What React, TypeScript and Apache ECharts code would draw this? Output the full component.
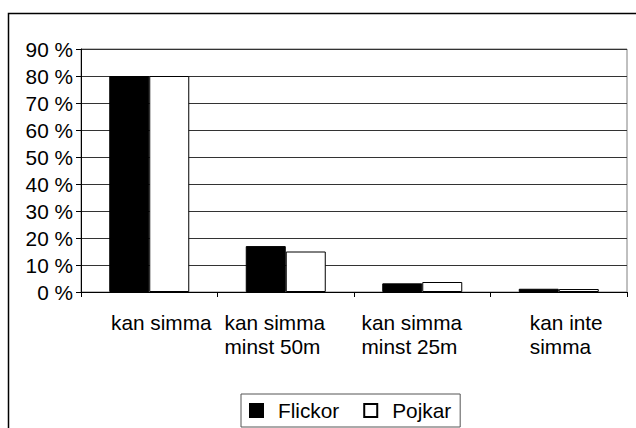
import React, { useEffect, useRef } from "react";
import * as echarts from "echarts";

const categories = [
  "kan simma",
  "kan simma\nminst 50m",
  "kan simma\nminst 25m",
  "kan inte\nsimma",
];
const seriesNames = ["Flickor", "Pojkar"];
const flickor = [80, 17, 3.2, 1.2];
const pojkar = [80, 15, 3.7, 1.1];
const yMin = 0;
const yMax = 90;
const yStep = 10;

const FONT = "'Liberation Sans', Arial, sans-serif";
const FS = 20.8;

export default function App() {
  const ref = useRef<HTMLDivElement>(null);
  useEffect(() => {
    if (!ref.current) return;
    const chart = echarts.init(ref.current, undefined, { renderer: "svg" });
    const labelPads = [
      [0, 0, 0, 24],
      [0, 22, 0, 0],
      [0, 21, 0, 0],
      [0, 0, 0, 15],
    ];
    const rich: any = {};
    labelPads.forEach((p, i) => {
      rich["c" + i] = {
        padding: p,
        align: "left",
        fontFamily: FONT,
        fontSize: FS,
        color: "#000",
        lineHeight: 24,
      };
    });
    chart.setOption({
      animation: false,
      backgroundColor: "#fff",
      textStyle: { fontFamily: FONT, color: "#000" },
      graphic: [
        {
          type: "rect",
          shape: { x: 8.5, y: 13.5, width: 700, height: 500 },
          style: { fill: "none", stroke: "#000", lineWidth: 1.5 },
          z: 0,
        },
      ],
      grid: {
        left: 81,
        top: 49,
        width: 546,
        height: 243,
        show: true,
        borderColor: "#808080",
        borderWidth: 1,
        backgroundColor: "transparent",
      },
      legend: {
        left: 241,
        top: 394,
        padding: [6, 9, 6, 8],
        borderColor: "#555",
        borderWidth: 1,
        itemWidth: 13,
        itemHeight: 13,
        itemGap: 24,
        icon: "rect",
        textStyle: {
          fontFamily: FONT,
          fontSize: FS,
          color: "#000",
          padding: [0, 0, 0, 10],
        },
        data: seriesNames,
      },
      xAxis: {
        type: "category",
        data: categories,
        axisLine: { show: true, lineStyle: { color: "#000", width: 1 } },
        axisTick: {
          show: true,
          alignWithLabel: false,
          length: 5,
          lineStyle: { color: "#000" },
        },
        axisLabel: {
          margin: 18,
          interval: 0,
          fontFamily: FONT,
          fontSize: FS,
          color: "#000",
          lineHeight: 24,
          formatter: (value: string, index: number) =>
            value
              .split("\n")
              .map((l) => `{c${index}|${l}}`)
              .join("\n"),
          rich,
        },
      },
      yAxis: {
        type: "value",
        min: yMin,
        max: yMax,
        interval: yStep,
        axisLine: { show: true, lineStyle: { color: "#000", width: 1 } },
        axisTick: { show: true, length: 5, lineStyle: { color: "#000" } },
        axisLabel: {
          margin: 8,
          fontFamily: FONT,
          fontSize: FS,
          color: "#000",
          formatter: "{value} %",
        },
        splitLine: { show: true, lineStyle: { color: "#333", width: 1 } },
      },
      series: [
        {
          name: seriesNames[0],
          type: "bar",
          data: flickor,
          barWidth: 40,
          barGap: "0%",
          itemStyle: { color: "#000", borderColor: "#000", borderWidth: 1 },
        },
        {
          name: seriesNames[1],
          type: "bar",
          data: pojkar,
          barWidth: 40,
          barGap: "0%",
          itemStyle: { color: "#fff", borderColor: "#000", borderWidth: 1 },
        },
      ],
    });
    return () => chart.dispose();
  }, []);
  return (
    <div
      ref={ref}
      style={{ position: "absolute", left: 0, top: 0, width: 636, height: 428 }}
    />
  );
}
